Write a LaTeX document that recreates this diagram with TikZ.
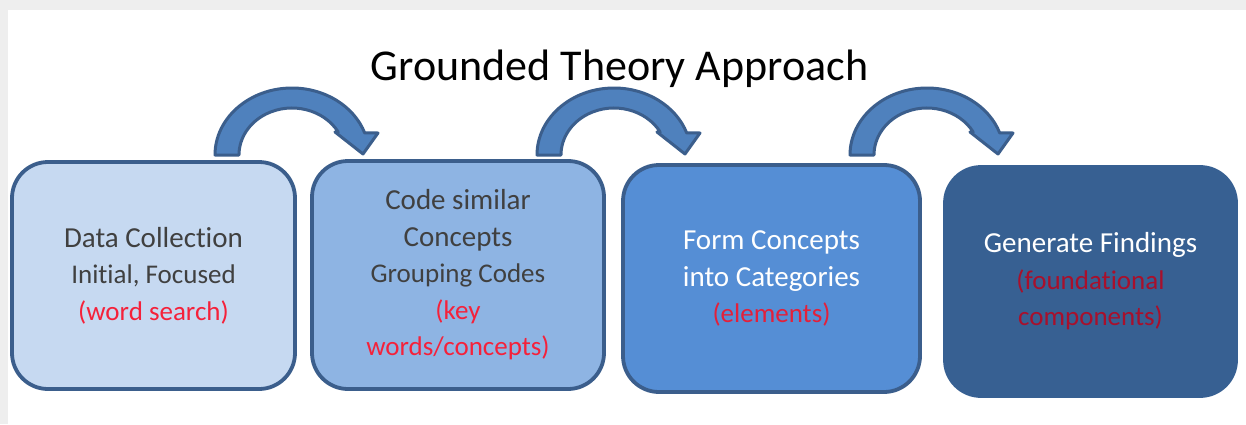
\documentclass[tikz,border=0pt]{standalone}
\usepackage{fontspec}
\setmainfont[Ligatures={NoCommon}]{Carlito}
\definecolor{bgedge}{HTML}{EEEEEE}
\definecolor{fillA}{HTML}{C6D9F1}
\definecolor{fillB}{HTML}{8EB4E3}
\definecolor{fillC}{HTML}{558ED5}
\definecolor{fillD}{HTML}{376092}
\definecolor{edgeblue}{HTML}{3B5E8C}
\definecolor{arrowfill}{HTML}{4F81BD}
\definecolor{darktext}{HTML}{404040}
\definecolor{redA}{HTML}{F5213A}
\definecolor{redC}{HTML}{E3203A}
\definecolor{redD}{HTML}{A8102C}
\newcommand\bigtxt{\fontsize{29}{36.5}\selectfont}
\newcommand\smalltxt{\fontsize{27}{36.5}\selectfont}
\tikzset{
  stagebox/.style={draw=edgeblue, line width=3.8pt, rounded corners=36pt,
    align=center, inner sep=0pt, font=\bigtxt},
  bentarrow/.style={fill=arrowfill, draw=edgeblue, line width=3pt, line join=round}
}
\begin{document}
\begin{tikzpicture}[x=1pt,y=1pt]
\useasboundingbox (0,0) rectangle (1246,424);
\fill[bgedge] (0,0) rectangle (1246,424);
\fill[white] (8,0) rectangle (1246,414);
\node[anchor=base, font=\fontsize{44}{50}\selectfont] (title) at (619.5,344) {Grounded Theory Approach};
% curved block arrows
\foreach \dx/\nm in {0/arrA,322/arrB,635/arrC}{
  \begin{scope}[xshift=\dx pt]
    \draw[bentarrow] (215,269) arc[start angle=180,end angle=19.2,x radius=77,y radius=67]
      -- (378,291) -- (363,270) -- (335,292) -- (338.2,292)
      arc[start angle=29.3,end angle=180,x radius=53,y radius=47] -- cycle;
  \end{scope}
}
\node[stagebox, fill=fillA, text=darktext, minimum width=283pt, minimum height=227pt] (b1) at (153.5,148.5)
  {Data Collection\\ {\smalltxt Initial, Focused}\\ {\smalltxt\color{redA}(word search)}};
\node[stagebox, fill=fillB, text=darktext, minimum width=292pt, minimum height=228pt] (b2) at (458,149)
  {Code similar\\ Concepts\\ {\smalltxt Grouping Codes}\\ {\smalltxt\color{redA}(key}\\ {\smalltxt\color{redA}words/concepts)}};
\node[stagebox, fill=fillC, text=white, minimum width=297pt, minimum height=227pt] (b3) at (771.5,145.5)
  {Form Concepts\\ into Categories\\ {\smalltxt\color{redC}(elements)}};
\node[stagebox, draw=fillD, fill=fillD, text=white, minimum width=291pt, minimum height=229pt] (b4) at (1090.5,142.5)
  {Generate Findings\\ {\smalltxt\color{redD}(foundational}\\ {\smalltxt\color{redD}components)}};
\end{tikzpicture}
\end{document}
